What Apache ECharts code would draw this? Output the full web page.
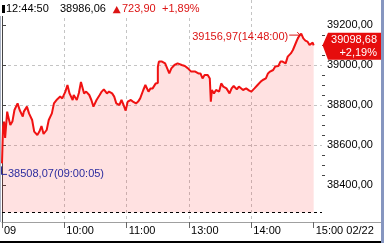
<!DOCTYPE html>
<html><head><meta charset="utf-8">
<script src="https://cdn.jsdelivr.net/npm/echarts@6/dist/echarts.min.js"></script>
<style>html,body{margin:0;padding:0;background:#fff;overflow:hidden}#c{width:384px;height:243px}</style>
</head><body><div id="c"></div>
<script>
const times = [
 '09:00','09:01','09:02','09:03','09:05','09:06','09:08','09:10','09:12','09:15',
 '09:17','09:20','09:21','09:24','09:26','09:29','09:31','09:34','09:36','09:38',
 '09:40','09:43','09:45','09:48','09:50','09:53','09:56','09:58','10:01','10:03',
 '10:05','10:08','10:09','10:12','10:14','10:16','10:19','10:21','10:24','10:26',
 '10:28','10:31','10:34','10:36','10:38','10:41','10:43','10:46','10:48','10:50',
 '10:53','10:55','10:57','10:59','11:01','11:04','11:06','11:09','11:11','11:13',
 '11:16','11:18','11:21','11:23','11:25','11:28','11:30','12:30','12:31','12:32',
 '12:34','12:37','12:39','12:41','12:43','12:46','12:49','12:53','12:56','12:59',
 '13:02','13:06','13:09','13:11','13:13','13:15','13:18','13:20','13:21','13:22',
 '13:24','13:26','13:29','13:31','13:33','13:36','13:39','13:41','13:43','13:46',
 '13:48','13:52','13:55','13:58','14:00','14:03','14:06','14:09','14:11','14:14',
 '14:16','14:18','14:21','14:23','14:26','14:28','14:30','14:33','14:35','14:38',
 '14:40','14:42','14:44','14:46','14:48','14:50','14:52','14:54','14:56','14:57',
 '14:59','15:00'
];
const values = [
 38508.07,38692,38717,38635,38767,38742,38700,38717,38775,38808,
 38775,38742,38767,38792,38758,38725,38667,38650,38667,38695,
 38655,38675,38725,38758,38808,38828,38842,38833,38867,38900,
 38858,38825,38850,38825,38860,38915,38858,38867,38850,38825,
 38792,38825,38850,38867,38878,38858,38867,38858,38842,38808,
 38800,38825,38800,38772,38817,38825,38817,38808,38817,38833,
 38875,38900,38867,38883,38883,38908,38910,38990,39017,39008,
 39017,39008,38983,38958,38983,39000,39008,39000,38995,38983,
 38967,38967,38958,38958,38933,38950,38950,38933,38817,38875,
 38858,38875,38867,38908,38892,38883,38858,38883,38895,38878,
 38892,38875,38883,38872,38867,38883,38900,38917,38925,38933,
 38958,38967,38975,38992,38995,39017,39017,39008,39042,39058,
 39075,39100,39125,39145,39156.97,39133,39122,39117,39100,39095,
 39112,39098.68
];
const prevClose = 38262.16;
const yTicks = [38400, 38600, 38800, 39000, 39200];
const yMinorTicks = [38450, 38500, 38550, 38650, 38700, 38750, 38850, 38900, 38950, 39050, 39100, 39150];
const xTickTimes = ['09:00', '10:00', '11:00', '13:00', '14:00', '15:00'];
const xTickLabels = ['09', '10:00', '11:00', '13:00', '14:00', '15:00 02/22'];
const headerTime = '12:44:50';
const headerPrice = '38986,06';
const headerChange = '723,90';
const headerPct = '+1,89%';
const lastPct = '+2,19%';
const lowLabelTime = '09:00:05';
const highLabelTime = '14:48:00';

function tradingMinute(t) {
  const p = t.split(':').map(Number);
  const m = p[0] * 60 + p[1];
  return m <= 690 ? m - 540 : m - 750 + 150;
}
function fmt(v) { return v.toFixed(2).replace('.', ','); }

const FONT = '11px "Liberation Sans", Arial, sans-serif';
const FAM = '"Liberation Sans", Arial, sans-serif';
const RED = '#dc1414';
const BLUE = '#2b2b9e';

const data = times.map((t, i) => [tradingMinute(t), values[i]]);
const xTickMin = xTickTimes.map(tradingMinute);

const chart = echarts.init(document.getElementById('c'), null, { renderer: 'canvas' });
chart.setOption({
  animation: false,
  grid: { left: 2, right: 62, top: 0, bottom: 21 },
  xAxis: {
    type: 'value', min: 0, max: 308, interval: 60,
    axisLine: { show: true, lineStyle: { color: '#a0a0a0' } },
    axisTick: { show: true, customValues: xTickMin, length: 6, lineStyle: { color: '#666' } },
    axisLabel: {
      customValues: xTickMin,
      formatter: v => xTickLabels[xTickMin.indexOf(v)],
      align: 'left', margin: 3, padding: [0, 0, 0, 2],
      color: '#000', fontSize: 11, fontFamily: FAM
    },
    splitLine: { show: true, showMinLine: false, showMaxLine: false, lineStyle: { color: '#c4c4c4', type: [3, 3] } }
  },
  yAxis: {
    type: 'value', position: 'right', min: 38215, max: 39325,
    axisLine: { show: true, lineStyle: { color: '#444' } },
    axisTick: { show: true, customValues: yTicks, length: 4, lineStyle: { color: '#444' } },
    axisLabel: { customValues: yTicks, formatter: fmt, margin: 5, color: '#000', fontSize: 11, fontFamily: FAM },
    splitLine: { show: true, showMinLine: false, showMaxLine: false, lineStyle: { color: '#c4c4c4', type: [3, 3] } }
  },
  series: [{
    type: 'line', data: data, symbol: 'none', showSymbol: false,
    lineStyle: { color: '#f01212', width: 2 },
    areaStyle: { color: 'rgba(255,0,0,0.17)', origin: prevClose },
    markLine: {
      silent: true, symbol: 'none', label: { show: false },
      lineStyle: { color: '#000', type: [3, 3], width: 1 },
      data: [{ yAxis: prevClose }]
    }
  }]
});

// annotations positioned via the chart's own scales
let hiIdx = 0, loIdx = 0;
values.forEach((v, i) => { if (v > values[hiIdx]) hiIdx = i; if (v < values[loIdx]) loIdx = i; });
const lastIdx = values.length - 1;
const pk = chart.convertToPixel({ gridIndex: 0 }, data[hiIdx]);
const mn = chart.convertToPixel({ gridIndex: 0 }, data[loIdx]);
const ls = chart.convertToPixel({ gridIndex: 0 }, data[lastIdx]);
const axisX = Math.round(chart.convertToPixel({ gridIndex: 0 }, [308, prevClose])[0]);
const axisY = Math.round(chart.convertToPixel({ gridIndex: 0 }, [0, 38215])[1]);
const cy = ls[1] + 1;

const minorTicks = yMinorTicks.map(v => {
  const y = Math.round(chart.convertToPixel({ yAxisIndex: 0 }, v)) + 0.5;
  return { type: 'line', shape: { x1: axisX, y1: y, x2: axisX + 3, y2: y }, style: { stroke: '#444', lineWidth: 1 }, z: 6 };
});

chart.setOption({
  graphic: minorTicks.concat([
    { type: 'rect', shape: { x: 0, y: 0, width: 203, height: 16 }, style: { fill: '#fff' }, z: 10 },
    { type: 'rect', shape: { x: 2, y: 5, width: 3, height: 8 }, style: { fill: '#000' }, z: 11 },
    { type: 'text', x: 6, y: 9, style: { text: headerTime, font: FONT, fill: '#000', verticalAlign: 'middle' }, z: 11 },
    { type: 'text', x: 60, y: 9, style: { text: headerPrice, font: FONT, fill: '#000', verticalAlign: 'middle' }, z: 11 },
    { type: 'polygon', shape: { points: [[112.7, 13.3], [116.7, 6], [120.7, 13.3]] }, style: { fill: RED }, z: 11 },
    { type: 'text', x: 122, y: 9, style: { text: headerChange, font: FONT, fill: RED, verticalAlign: 'middle' }, z: 11 },
    { type: 'text', x: 162, y: 9, style: { text: headerPct, font: FONT, fill: RED, verticalAlign: 'middle' }, z: 11 },
    // high annotation
    { type: 'text', x: pk[0] - 13, y: pk[1] + 3, style: { text: fmt(values[hiIdx]) + '(' + highLabelTime + ')', font: FONT, fill: RED, align: 'right', verticalAlign: 'middle' }, z: 11 },
    { type: 'polyline', shape: { points: [[pk[0] - 12, pk[1] + 1.5], [pk[0] - 1, pk[1] + 1.5]] }, style: { stroke: RED, lineWidth: 1 }, z: 11 },
    { type: 'polyline', shape: { points: [[pk[0] - 4, pk[1] - 1.5], [pk[0] - 1, pk[1] + 1.5], [pk[0] - 4, pk[1] + 4.5]] }, style: { stroke: RED, lineWidth: 1, fill: null }, z: 11 },
    // low annotation
    { type: 'polyline', shape: { points: [[1.5, mn[1] + 3], [1.5, mn[1] + 11], [7, mn[1] + 11]] }, style: { stroke: BLUE, lineWidth: 1, fill: null }, z: 11 },
    { type: 'text', x: 8, y: mn[1] + 11, style: { text: fmt(values[loIdx]) + '(' + lowLabelTime + ')', font: FONT, fill: BLUE, verticalAlign: 'middle' }, z: 11 },
    // last value callout
    { type: 'polygon', shape: { points: [[axisX + 0.5, ls[1]], [axisX + 6, cy - 13.5], [381, cy - 13.5], [381, cy + 13.5], [axisX + 6, cy + 13.5]] }, style: { fill: '#e60d0d' }, z: 11 },
    { type: 'text', x: 377, y: cy - 6.5, style: { text: fmt(values[lastIdx]), font: FONT, fill: '#fff', align: 'right', verticalAlign: 'middle' }, z: 12 },
    { type: 'text', x: 377, y: cy + 6.5, style: { text: lastPct, font: FONT, fill: '#fff', align: 'right', verticalAlign: 'middle' }, z: 12 },
    // frame
    { type: 'line', shape: { x1: axisX, y1: axisY + 0.5, x2: 381, y2: axisY + 0.5 }, style: { stroke: '#a0a0a0', lineWidth: 1 }, z: 5 },
    { type: 'line', shape: { x1: 0.5, y1: 16, x2: 0.5, y2: axisY }, style: { stroke: '#aab2c4', lineWidth: 1 }, z: 5 },
    { type: 'rect', shape: { x: 0, y: 241, width: 381, height: 2 }, style: { fill: '#000' }, z: 5 },
    { type: 'rect', shape: { x: 381, y: 0, width: 3, height: 243 }, style: { fill: '#8696c0' }, z: 5 }
  ])
});
</script>
</body></html>
